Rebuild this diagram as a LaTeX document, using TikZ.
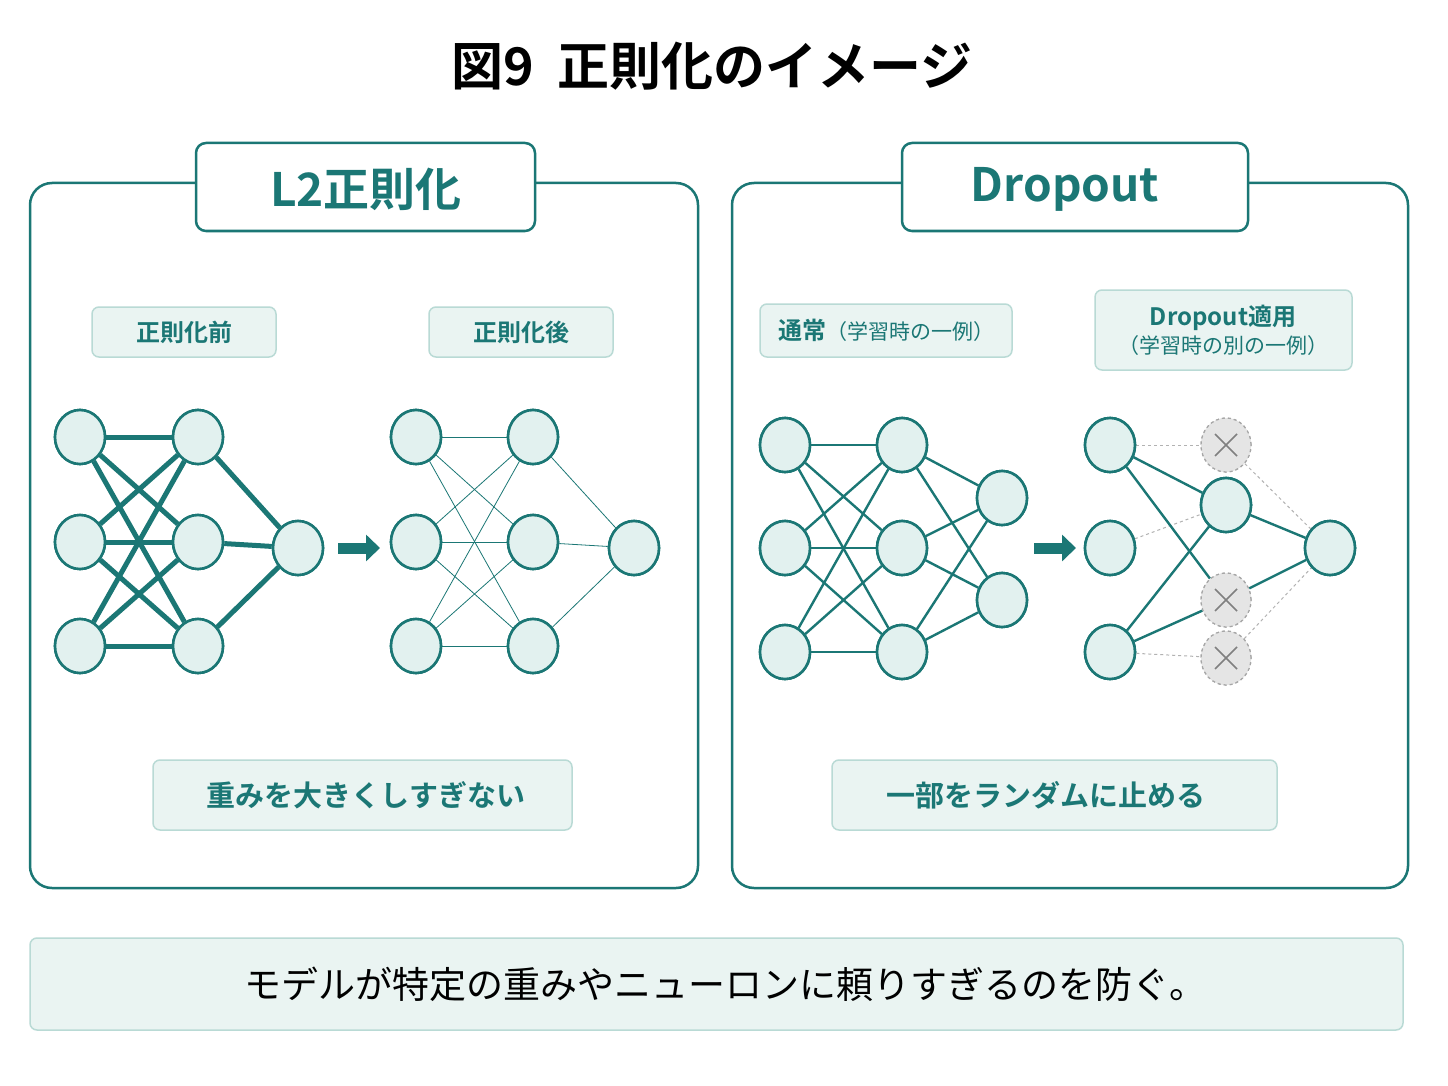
\documentclass[tikz,border=0pt]{standalone}
\usepackage{fontspec}
\setmainfont{Noto Sans CJK JP}
\newfontfamily\cjkb{Noto Sans CJK JP Bold}
\usetikzlibrary{shapes.geometric,arrows.meta}
\definecolor{teal}{HTML}{1B7775}
\definecolor{lfill}{HTML}{E2F1EF}
\definecolor{bfill}{HTML}{EAF4F2}
\definecolor{bbord}{HTML}{B9DAD5}
\begin{document}
\begin{tikzpicture}[x=1pt,y=-1pt,
 nd/.style={ellipse,draw=teal,line width=2.6pt,fill=lfill,minimum width=50pt,minimum height=54pt,inner sep=0},
 dn/.style={ellipse,draw=gray!70,dashed,line width=1.2pt,fill=gray!20,minimum width=50pt,minimum height=54pt,inner sep=0},
 panel/.style={draw=teal,line width=2.5pt,rounded corners=22pt,fill=white},
 tab/.style={draw=teal,line width=2.5pt,rounded corners=10pt,fill=white},
 lab/.style={draw=bbord,line width=1.5pt,rounded corners=7pt,fill=bfill},
 thick e/.style={teal,line width=5pt},
 mid e/.style={teal,line width=2.4pt},
 thin e/.style={teal,line width=0.8pt},
 dsh/.style={gray!60,dashed,line width=1pt},
 barr/.style={-{Triangle[length=14pt,width=26pt]},teal,line width=11pt}]
\useasboundingbox[fill=white] (0,0) rectangle (1448,1086);
\node (title) at (712,66) {\fontsize{52}{58}\selectfont\cjkb 図9\ \ 正則化のイメージ};
\draw[panel] (30,183) rectangle (698,888);
\draw[panel] (732,183) rectangle (1408,888);
\draw[tab] (196,143) rectangle (535,231);
\node[teal] (t1) at (366,189) {\fontsize{46}{50}\selectfont\cjkb L2正則化};
\draw[tab] (902,143) rectangle (1248,231);
\node[teal] (t2) at (1065,189) {\fontsize{46}{50}\selectfont\cjkb Dropout};
\draw[lab] (92,307) rectangle (276,357); \node[teal] (l1) at (184,332) {\fontsize{24}{26}\selectfont\cjkb 正則化前};
\draw[lab] (429,307) rectangle (613,357); \node[teal] (l2) at (521,332) {\fontsize{24}{26}\selectfont\cjkb 正則化後};
\draw[lab] (760,304) rectangle (1012,357); \node[teal] (l3) at (886,330) {\fontsize{24}{26}\selectfont\cjkb 通常\fontsize{21}{24}\selectfont\mdseries\rmfamily（学習時の一例）};
\draw[lab] (1095,290) rectangle (1352,370);
\node[teal,align=center] (l4) at (1223,330) {{\fontsize{24}{28}\selectfont\cjkb Dropout適用}\\[4pt]{\fontsize{21}{24}\selectfont（学習時の別の一例）}};
\draw[lab] (153,760) rectangle (572,830); \node[teal] (b1) at (366,795) {\fontsize{29}{32}\selectfont\cjkb 重みを大きくしすぎない};
\draw[lab] (832,760) rectangle (1277,830); \node[teal] (b2) at (1046,795) {\fontsize{29}{32}\selectfont\cjkb 一部をランダムに止める};
\draw[lab] (30,938) rectangle (1403,1030); \node (f) at (725,984) {\fontsize{37}{40}\selectfont モデルが特定の重みやニューロンに頼りすぎるのを防ぐ。};
\foreach \i/\y in {1/437,2/542,3/646}{\node[nd] (a\i) at (80,\y) {}; \node[nd] (b\i) at (198,\y) {};
 \node[nd] (c\i) at (416,\y) {}; \node[nd] (d\i) at (533,\y) {};}
\node[nd] (ao) at (298,548) {}; \node[nd] (co) at (634,548) {};
\foreach \i in {1,2,3}{\foreach \j in {1,2,3}{\draw[thick e] (a\i)--(b\j); \draw[thin e] (c\i)--(d\j);}
 \draw[thick e] (b\i)--(ao); \draw[thin e] (d\i)--(co);}
\foreach \i in {1,2,3}{\node[nd] at (a\i) {}; \node[nd] at (b\i) {}; \node[nd] at (c\i) {}; \node[nd] at (d\i) {};}
\node[nd] at (ao) {}; \node[nd] at (co) {};
\coordinate (r1s) at (338,548); \coordinate (r1e) at (380,548);
\draw[barr] (r1s)--(r1e);
\foreach \i/\y in {1/445,2/548,3/652}{\node[nd] (e\i) at (785,\y) {}; \node[nd] (g\i) at (902,\y) {}; \node[nd] (i\i) at (1110,\y) {};}
\node[nd] (h1) at (1002,498) {}; \node[nd] (h2) at (1002,600) {};
\foreach \i in {1,2,3}{\foreach \j in {1,2,3}{\draw[mid e] (e\i)--(g\j);} \draw[mid e] (g\i)--(h1); \draw[mid e] (g\i)--(h2);}
\foreach \i in {1,2,3}{\node[nd] at (e\i) {}; \node[nd] at (g\i) {};}
\node[nd] at (h1) {}; \node[nd] at (h2) {};
\coordinate (r2s) at (1034,548); \coordinate (r2e) at (1076,548);
\draw[barr] (r2s)--(r2e);
\node[dn] (x1) at (1226,445) {}; \node[nd] (hh) at (1226,505) {};
\node[dn] (x2) at (1226,600) {}; \node[dn] (x3) at (1226,658) {};
\node[nd] (oo) at (1330,548) {};
\draw[dsh] (i1)--(x1); \draw[dsh] (i2)--(hh); \draw[dsh] (i3)--(x3); \draw[dsh] (x1)--(oo); \draw[dsh] (x3)--(oo);
\draw[mid e] (i1)--(hh); \draw[mid e] (i1)--(x2); \draw[mid e] (i3)--(hh); \draw[mid e] (i3)--(x2);
\draw[mid e] (hh)--(oo); \draw[mid e] (x2)--(oo);
\foreach \n in {i1,i2,i3,hh,oo}{\node[nd] at (\n) {};}
\foreach \n in {x1,x2,x3}{\node[dn] at (\n) {}; \draw[gray,line width=1.5pt] ([shift={(-11,-11)}]\n.center)--([shift={(11,11)}]\n.center) ([shift={(-11,11)}]\n.center)--([shift={(11,-11)}]\n.center);}
\end{tikzpicture}
\end{document}
